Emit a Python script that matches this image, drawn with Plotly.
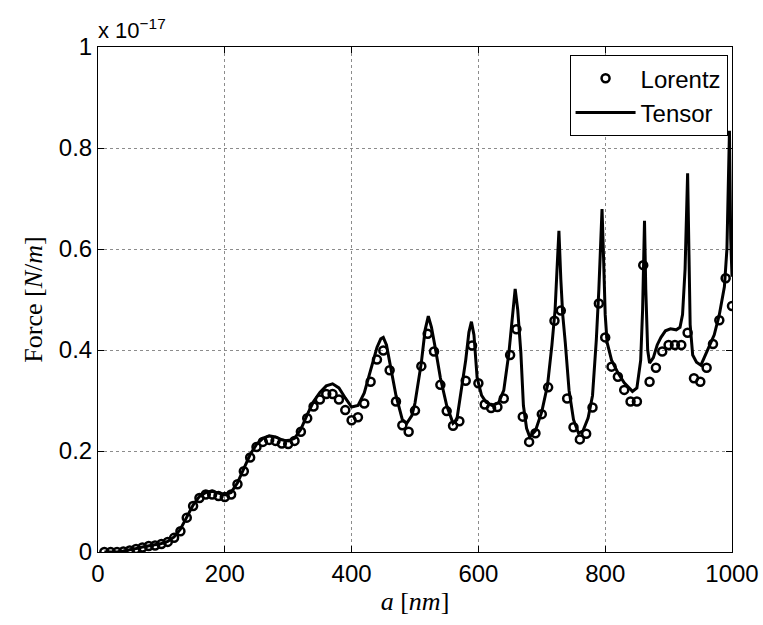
import plotly.graph_objects as go

# Lorentz (circles), values in units of 1e-17 N/m
lorentz_a = list(range(10, 1001, 10))
lorentz_f = [
    0.000, 0.000, 0.000, 0.001, 0.003, 0.006, 0.009, 0.012, 0.013, 0.016,
    0.020, 0.028, 0.041, 0.068, 0.091, 0.107, 0.114, 0.114, 0.111, 0.109,
    0.114, 0.134, 0.160, 0.187, 0.208, 0.218, 0.222, 0.220, 0.215, 0.214,
    0.220, 0.238, 0.265, 0.288, 0.302, 0.313, 0.313, 0.302, 0.281, 0.261,
    0.267, 0.294, 0.337, 0.381, 0.399, 0.360, 0.298, 0.251, 0.238, 0.280,
    0.368, 0.432, 0.397, 0.331, 0.279, 0.250, 0.259, 0.339, 0.409, 0.334,
    0.292, 0.285, 0.287, 0.304, 0.390, 0.441, 0.268, 0.218, 0.235, 0.273,
    0.326, 0.458, 0.478, 0.304, 0.247, 0.223, 0.234, 0.286, 0.492, 0.425,
    0.367, 0.347, 0.321, 0.298, 0.298, 0.568, 0.337, 0.365, 0.397, 0.410,
    0.410, 0.410, 0.434, 0.344, 0.337, 0.365, 0.412, 0.459, 0.542, 0.487,
]

# Tensor (solid line)
tensor_a = [
    10, 20, 30, 40, 50, 60, 70, 80, 90, 100,
    110, 120, 130, 140, 150, 160, 170, 180, 190, 200,
    210, 220, 230, 240, 250, 260, 270, 280, 290, 300,
    310, 320, 330, 340, 350, 360, 370, 380, 390, 400,
    410, 420, 430, 440, 446, 450, 455, 460, 470, 480, 487,
    495, 500, 510, 516, 521, 526, 533, 540, 550, 560,
    566, 575, 580, 585, 589, 593, 598, 605, 612, 622,
    632, 640, 648, 654, 658, 662, 667, 671, 676, 681,
    690, 700, 709, 716, 721, 724, 727, 730, 733, 737,
    743, 750, 758, 765, 773, 780, 786, 790, 793, 795,
    797, 800, 803, 810, 820, 830, 843, 850, 856, 859,
    862, 864, 867, 870, 876, 882, 888, 895, 903, 912,
    918, 922, 926, 929, 930, 932, 934, 938, 944, 951,
    958, 965, 972, 980, 988, 992, 994, 996, 998, 1000,
]
tensor_f = [
    0.000, 0.000, 0.000, 0.002, 0.004, 0.007, 0.010, 0.012, 0.014, 0.017,
    0.021, 0.030, 0.045, 0.070, 0.093, 0.110, 0.118, 0.120, 0.116, 0.113,
    0.118, 0.137, 0.165, 0.193, 0.213, 0.225, 0.230, 0.228, 0.222, 0.220,
    0.225, 0.243, 0.272, 0.298, 0.316, 0.329, 0.333, 0.325, 0.305, 0.287,
    0.290, 0.315, 0.360, 0.405, 0.422, 0.425, 0.410, 0.378, 0.310, 0.262, 0.255,
    0.270, 0.295, 0.375, 0.440, 0.467, 0.445, 0.397, 0.345, 0.290, 0.255,
    0.262, 0.335, 0.380, 0.435, 0.456, 0.430, 0.345, 0.310, 0.297, 0.290,
    0.296, 0.320, 0.393, 0.470, 0.521, 0.480, 0.394, 0.290, 0.245, 0.228,
    0.240, 0.278, 0.330, 0.410, 0.480, 0.560, 0.636, 0.540, 0.470, 0.415,
    0.320, 0.262, 0.235, 0.240, 0.265, 0.310, 0.420, 0.520, 0.620, 0.679,
    0.600, 0.470, 0.415, 0.380, 0.355, 0.335, 0.318, 0.325, 0.380, 0.480,
    0.656, 0.520, 0.400, 0.374, 0.385, 0.410, 0.425, 0.438, 0.442, 0.440,
    0.445, 0.470, 0.560, 0.700, 0.750, 0.600, 0.450, 0.390, 0.376, 0.370,
    0.390, 0.410, 0.430, 0.470, 0.525, 0.600, 0.720, 0.834, 0.620, 0.545,
]

x_ticks = [0, 200, 400, 600, 800, 1000]
y_ticks = [0, 0.2, 0.4, 0.6, 0.8, 1]
y_tick_text = ["0", "0.2", "0.4", "0.6", "0.8", "1"]

fig = go.Figure()
fig.add_trace(go.Scatter(
    x=lorentz_a, y=lorentz_f, mode="markers", name="Lorentz",
    marker=dict(symbol="circle-open", size=8, color="black",
                line=dict(color="black", width=2.5)),
))
fig.add_trace(go.Scatter(
    x=tensor_a, y=tensor_f, mode="lines", name="Tensor",
    line=dict(color="black", width=3),
))

axis_common = dict(
    showline=True, linecolor="black", linewidth=1, mirror="ticks",
    ticks="inside", ticklen=6, tickcolor="black", tickwidth=1,
    showgrid=True, gridcolor="rgba(0,0,0,0.45)", griddash="dot", gridwidth=1,
    zeroline=False, automargin=False,
    tickfont=dict(family="Liberation Sans, Arial, sans-serif", size=24, color="black"),
)

fig.update_xaxes(
    range=[0, 1000], tickvals=x_ticks, ticktext=[str(v) for v in x_ticks],
    title=dict(text="<i>a</i> [<i>nm</i>]", standoff=6,
               font=dict(family="Liberation Serif, DejaVu Serif, serif", size=26, color="black")),
    **axis_common,
)
fig.update_yaxes(
    range=[0, 1], tickvals=y_ticks, ticktext=y_tick_text,
    title=dict(text="Force [<i>N</i>/<i>m</i>]", standoff=8,
               font=dict(family="Liberation Serif, DejaVu Serif, serif", size=26, color="black")),
    **axis_common,
)

fig.add_annotation(
    xref="paper", yref="paper", x=0, y=1, xanchor="left", yanchor="bottom",
    yshift=2, xshift=-2, showarrow=False,
    text="x 10<sup>−17</sup>",
    font=dict(family="Liberation Sans, Arial, sans-serif", size=22, color="black"),
)

fig.update_layout(
    width=763, height=625,
    margin=dict(l=98, r=31, t=47, b=73),
    paper_bgcolor="white", plot_bgcolor="white",
    showlegend=True,
    legend=dict(
        x=0.993, y=0.984, xanchor="right", yanchor="top",
        bgcolor="white", bordercolor="black", borderwidth=1,
        font=dict(family="Liberation Sans, Arial, sans-serif", size=24, color="black"),
        tracegroupgap=0, itemwidth=60,
    ),
)

fig.write_html("out.html")
